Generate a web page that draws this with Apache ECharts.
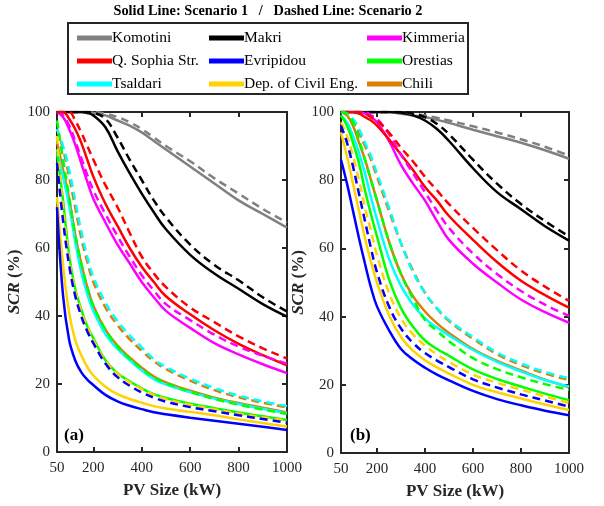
<!DOCTYPE html>
<html>
<head>
<meta charset="utf-8">
<script src="https://cdn.jsdelivr.net/npm/echarts@6/dist/echarts.min.js"></script>
<style>html,body{margin:0;padding:0;background:#fff}#c{width:604px;height:506px}</style>
</head>
<body>
<div id="c"></div>
<script>
// PV sizes (kW) at which curves are sampled
const PV = [50,75,100,125,150,175,200,250,300,350,400,450,500,600,700,800,900,1000];
const X_TICKS = [50,200,400,600,800,1000];
const Y_TICKS = [0,20,40,60,80,100];
const LOCATIONS = ['Komotini','Makri','Kimmeria','Q. Sophia Str.','Evripidou','Orestias','Tsaldari','Dep. of Civil Eng.','Chili'];

// Panel (a): SCR (%) -- S = Scenario 1 (solid), D = Scenario 2 (dashed)
const A_Komotini_S = [100,100,100,100,100,100,99.7,99,97.5,96,94,91.5,89,84,79,74,70,66];
const A_Komotini_D = [100,100,100,100,100,100,100,99.5,98.5,97,95,92.5,90,85.5,80.5,76,71.5,67.5];
const A_Makri_S = [100,100,100,100,100,99.7,99,95.5,88.5,82,76,70.5,65.5,58,52.5,48,43.5,39.8];
const A_Makri_D = [100,100,100,100,100,100,99.8,98,92.5,86,80,74,69,61,55,50.5,45.5,41.3];
const A_Kimmeria_S = [100,98.5,95,90.5,85,79.5,74.5,67.5,61,55.5,50,45.5,41.5,36.5,32,28.7,25.8,23.2];
const A_Kimmeria_D = [100,99,96,91.5,86.5,81.5,77,70,63.5,57.5,52,47.5,43.5,38.8,34.5,31,28.3,26];
const A_Sophia_S = [100,100,98,95,91,86,81,73,66.5,60,54.5,50,45.8,40.5,35.8,31.8,28.5,25.5];
const A_Sophia_D = [100,100,100,97.5,94,90,86,78.5,72,64.5,57.5,52.5,48.5,42.5,38.2,34,30.5,27.5];
const A_Evripidou_S = [72,46,33,27,23.5,21.3,19.7,16.8,14.9,13.6,12.6,11.7,11.1,10.1,9.2,8.3,7.4,6.5];
const A_Evripidou_D = [85,68,55,46,40,35.5,32,26,22,19.5,17.5,16,14.8,13.2,12,10.8,9.7,8.6];
const A_Orestias_S = [88,74,58,48,42,37,33.5,27,23.2,20.8,18.7,17,15.9,14.2,12.9,11.6,10.5,9.4];
const A_Orestias_D = [97.5,86,75,64,55.5,48.5,43,36,31,27.5,24.5,22,20.3,17.7,15.6,13.9,12.5,11.2];
const A_Tsaldari_S = [89,81,72.5,62,53,46.5,41.5,34.7,30.3,27,24,21.4,19.8,17.6,15.7,14.1,12.7,11.4];
const A_Tsaldari_D = [95,90,83,74,65,57.5,51.5,44,38.5,34.3,30.8,27.3,25,21.6,18.8,16.6,14.9,13.5];
const A_Civil_S = [75,55,41,33,28.5,25,22.5,19.2,17,15.6,14.5,13.5,12.8,11.8,10.8,9.6,8.5,7.5];
const A_Civil_D = [93,72,57,47.5,41.5,36.8,33,26.8,23,20.5,18.5,16.8,15.6,13.9,12.6,11.3,10.2,9.2];
const A_Chili_S = [91,83,74.5,64,55.5,48.5,43,36,31.3,27.8,24.8,22.2,20.5,18,16,14.4,13,11.6];
const A_Chili_D = [95,89,81,72,63,56,50,42.5,37.3,33.2,29.8,26.7,24.4,21,18.2,16.1,14.5,13.1];

// Panel (b)
const B_Komotini_S = [100,100,100,100,100,100,100,100,99.5,99,98.5,97.7,96.8,94.8,92.9,91,88.8,86.3];
const B_Komotini_D = [100,100,100,100,100,100,100,100,100,99.5,99,98.3,97.5,95.8,94,92,89.8,87.2];
const B_Makri_S = [100,100,100,100,100,100,100,100,99.8,99,97.5,95,91.5,83.5,76.5,71.5,66.5,62.3];
const B_Makri_D = [100,100,100,100,100,100,100,100,100,99.5,98.5,96.5,93.5,86,79,73,68,63.5];
const B_Kimmeria_S = [100,100,100,100,99.5,98.5,97,91.5,84.5,79,74,68,62.5,55.5,50,45,41.3,38.2];
const B_Kimmeria_D = [100,100,100,100,100,99,98,93.5,87.5,82,76.5,71,66,58.5,52.5,47.5,43.5,40.2];
const B_Sophia_S = [100,100,100,99.5,98.5,97.5,96,92,87.5,83,78,74,69.5,62.5,56,50.5,46.3,42.6];
const B_Sophia_D = [100,100,100,100,99.5,98.5,97.5,94,89.5,85.5,81,77,73,66,59.5,53.5,48.8,44.6];
const B_Evripidou_S = [86,79,71,63,55.5,48.5,43,36,30.5,27.4,25,23,21.3,18.2,15.8,14,12.4,11.1];
const B_Evripidou_D = [96,91,84,76,68,60,53,43,36.5,32.3,29.3,27.1,25.2,21.6,19.2,17.2,15.4,13.6];
const B_Orestias_S = [99,96,91,85,77,70,63.5,51,42.5,37,33,30.5,28.5,24.5,21.7,19.5,17.4,15.5];
const B_Orestias_D = [100,99.5,97,92,86,80,74,62,52.5,45.3,39,35.8,32.8,27.8,24.6,22.2,20.2,18.5];
const B_Tsaldari_S = [99,97,93,88,82,75,68.5,57,49,43.5,39.5,36.8,34.5,30.2,26.7,23.9,21.4,19.5];
const B_Tsaldari_D = [100,99.5,98,95,91,87,82,72,61.5,53,47,42.5,39,34,29.5,26.3,23.8,21.9];
const B_Civil_S = [94,87,79,71,63,56,50,40.5,34,30,27.2,25.1,23.3,20,17.8,16,14.2,12.6];
const B_Civil_D = [97,93,87,80,72,65,58,47,39.5,34.8,31.5,28.9,26.7,23,20.6,18.6,16.6,14.7];
const B_Chili_S = [100,99,96,91,86,80,74,62,52.5,46,41.5,38,35.2,30.5,27,24.2,21.5,19.3];
const B_Chili_D = [100,99.5,97.5,94,90,86,81,71,61.5,53.5,47,42.3,38.7,33.5,29,25.8,23.3,21.4];

const COLORS = {
  'Komotini':'#808080','Makri':'#000000','Kimmeria':'#FF00FF','Q. Sophia Str.':'#FF0000',
  'Evripidou':'#0000FF','Orestias':'#00FF00','Tsaldari':'#00FFFF','Dep. of Civil Eng.':'#FFD200','Chili':'#DB7D07'
};
const PANEL_A = {
  'Komotini':[A_Komotini_S,A_Komotini_D],'Makri':[A_Makri_S,A_Makri_D],'Kimmeria':[A_Kimmeria_S,A_Kimmeria_D],
  'Q. Sophia Str.':[A_Sophia_S,A_Sophia_D],'Evripidou':[A_Evripidou_S,A_Evripidou_D],'Orestias':[A_Orestias_S,A_Orestias_D],
  'Tsaldari':[A_Tsaldari_S,A_Tsaldari_D],'Dep. of Civil Eng.':[A_Civil_S,A_Civil_D],'Chili':[A_Chili_S,A_Chili_D]
};
const PANEL_B = {
  'Komotini':[B_Komotini_S,B_Komotini_D],'Makri':[B_Makri_S,B_Makri_D],'Kimmeria':[B_Kimmeria_S,B_Kimmeria_D],
  'Q. Sophia Str.':[B_Sophia_S,B_Sophia_D],'Evripidou':[B_Evripidou_S,B_Evripidou_D],'Orestias':[B_Orestias_S,B_Orestias_D],
  'Tsaldari':[B_Tsaldari_S,B_Tsaldari_D],'Dep. of Civil Eng.':[B_Civil_S,B_Civil_D],'Chili':[B_Chili_S,B_Chili_D]
};
const DRAW_ORDER = ['Komotini','Makri','Kimmeria','Q. Sophia Str.','Chili','Tsaldari','Orestias','Dep. of Civil Eng.','Evripidou'];

const FONT = 'Liberation Serif';
const AX = '#262626';

function pairs(arr){ return PV.map((x,i)=>[x,arr[i]]); }
const series = [];
[[PANEL_A,0],[PANEL_B,2]].forEach(([panel,idx])=>{
  DRAW_ORDER.forEach(name=>{
    [0,1].forEach(k=>{
      series.push({
        name:name, type:'line', xAxisIndex:idx, yAxisIndex:idx,
        data:pairs(panel[name][k]), showSymbol:false, symbol:'none',
        smooth:0.4, clip:true,
        itemStyle:{color:COLORS[name]},
        lineStyle:{color:COLORS[name], width:2.5, type: k===0?'solid':[8,5]},
        emphasis:{disabled:true}, z: 2+k
      });
    });
  });
});

function xAx(grid, top){
  return {
    type:'value', gridIndex:grid, min:50, max:1000, position: top?'top':'bottom',
    name: top?'':'PV Size (kW)', nameLocation:'middle', nameGap:30,
    nameTextStyle:{fontFamily:FONT, fontWeight:'bold', fontSize:17, color:AX},
    axisLine:{show:true, onZero:false, lineStyle:{color:AX, width:2}},
    axisTick:{show:true, inside:true, length:5, lineStyle:{color:AX, width:2}, customValues:[200,400,600,800]},
    axisLabel:{show:!top, customValues:X_TICKS, fontFamily:FONT, fontSize:15, color:AX, margin:9,
      formatter:v=>String(v)},
    splitLine:{show:false}
  };
}
function yAx(grid, right){
  return {
    type:'value', gridIndex:grid, min:0, max:100, interval:20, position: right?'right':'left',
    name: right?'':'{i|SCR} {n|(%)}', nameLocation:'middle', nameGap:27, nameRotate:90,
    nameTextStyle:{fontFamily:FONT, fontSize:17, color:AX,
      rich:{i:{fontFamily:FONT, fontSize:17, fontWeight:'bold', fontStyle:'italic', color:AX},
            n:{fontFamily:FONT, fontSize:17, fontWeight:'bold', color:AX}}},
    axisLine:{show:true, onZero:false, lineStyle:{color:AX, width:2}},
    axisTick:{show:true, inside:true, length:5, lineStyle:{color:AX, width:2}, customValues:[20,40,60,80]},
    axisLabel:{show:!right, customValues:Y_TICKS, fontFamily:FONT, fontSize:15, color:AX, margin:7},
    splitLine:{show:false}
  };
}
function legendCol(left, names){
  return {
    orient:'vertical', left:left, top:25, itemWidth:35, itemHeight:5, itemGap:7,
    icon:'rect', data:names, selectedMode:false,
    itemStyle:{borderWidth:0},
    textStyle:{fontFamily:FONT, fontSize:15.5, color:'#000', padding:[0,0,0,-5]}
  };
}

const option = {
  animation:false,
  backgroundColor:'#fff',
  grid:[{left:57, top:112, width:230, height:340},{left:341, top:112, width:228, height:341}],
  xAxis:[xAx(0,false), xAx(0,true), xAx(1,false), xAx(1,true)],
  yAxis:[yAx(0,false), yAx(0,true), yAx(1,false), yAx(1,true)],
  legend:[
    legendCol(72, [LOCATIONS[0],LOCATIONS[3],LOCATIONS[6]]),
    legendCol(204,[LOCATIONS[1],LOCATIONS[4],LOCATIONS[7]]),
    legendCol(362,[LOCATIONS[2],LOCATIONS[5],LOCATIONS[8]])
  ],
  graphic:[
    {type:'text', x:268, y:11, style:{text:'Solid Line: Scenario 1   /   Dashed Line: Scenario 2', font:'bold 14.3px "Liberation Serif"', fill:'#000', textAlign:'center', textVerticalAlign:'middle'}},
    {type:'rect', shape:{x:68, y:23, width:400, height:71}, style:{fill:'none', stroke:AX, lineWidth:2}, z:-1},
    {type:'text', x:64, y:427, style:{text:'(a)', font:'bold 17px "Liberation Serif"', fill:'#000'}},
    {type:'text', x:350, y:427, style:{text:'(b)', font:'bold 17px "Liberation Serif"', fill:'#000'}}
  ],
  series:series
};
const chart = echarts.init(document.getElementById('c'), null, {renderer:'canvas'});
chart.setOption(option);
</script>
</body>
</html>
